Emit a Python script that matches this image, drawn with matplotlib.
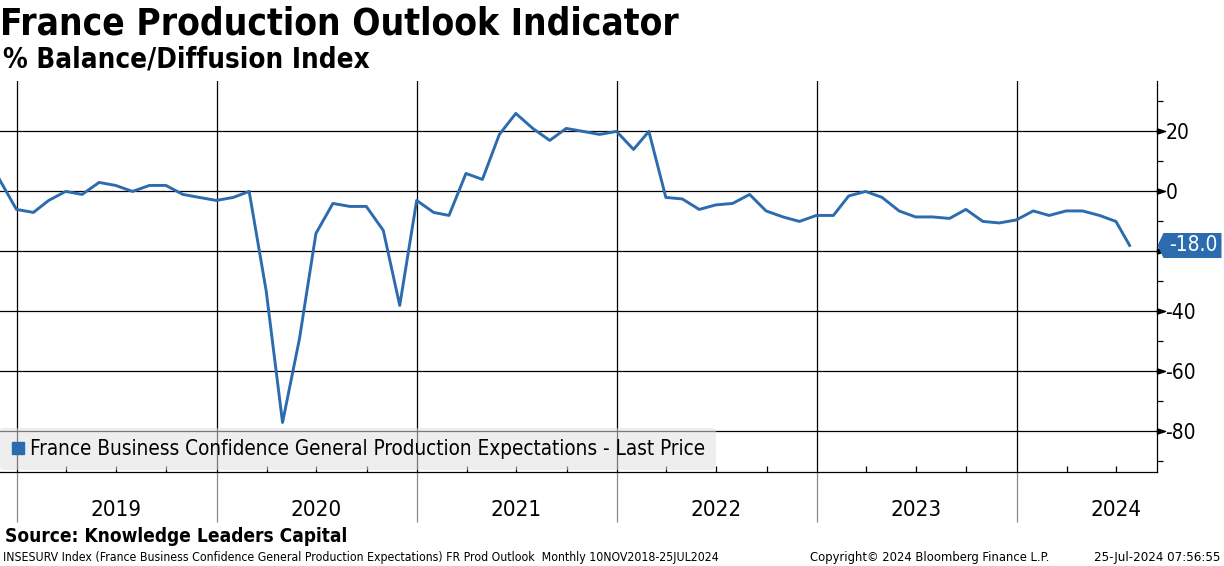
import numpy as np
import pandas as pd
import matplotlib
matplotlib.use("Agg")
import matplotlib.pyplot as plt
import matplotlib.dates as mdates
import matplotlib.transforms as mtransforms
from matplotlib.lines import Line2D
from matplotlib.ticker import FixedLocator, FuncFormatter, NullFormatter


# --------------------------------------------------
# DATA  (INSEE production outlook balance, monthly)
# --------------------------------------------------
vals_2018 = [4, -6]
vals_2019 = [-7, -3, 0, -1, 3, 2, 0, 2, 2, -1, -2, -3]
vals_2020 = [-2, 0, -33, -77, -49, -14, -4, -5, -5, -13, -38, -3]
vals_2021 = [-7, -8, 6, 4, 19, 26, 21, 17, 21, 20, 19, 20]
vals_2022 = [14, 20, -2, -2.5, -6, -4.5, -4, -1, -6.5, -8.5, -10, -8]
vals_2023 = [-8, -1.5, 0, -2, -6.5, -8.5, -8.5, -9, -6, -10, -10.5, -9.5]
vals_2024 = [-6.5, -8, -6.5, -6.5, -8, -10, -18]

values = vals_2018 + vals_2019 + vals_2020 + vals_2021 + vals_2022 + vals_2023 + vals_2024
dates = list(pd.date_range("2018-11-30", "2024-06-30", freq="ME")) + [pd.Timestamp("2024-07-25")]

y_major = [20, 0, -20, -40, -60, -80]
y_minor = [30, 10, -10, -30, -50, -70, -90]

TITLE = "France Production Outlook Indicator"
SUBTITLE = "% Balance/Diffusion Index"
SERIES_LABEL = "France Business Confidence General Production Expectations - Last Price"
SOURCE = "Source: Knowledge Leaders Capital"
FOOT_LEFT = ("INSESURV Index (France Business Confidence General Production Expectations) "
             "FR Prod Outlook  Monthly 10NOV2018-25JUL2024")
FOOT_MID = "Copyright\u00a9 2024 Bloomberg Finance L.P."
FOOT_RIGHT = "25-Jul-2024 07:56:55"

BLUE = "#2c6cae"
W, H = 1224, 566

plt.rcParams["font.family"] = "DejaVu Sans"
plt.rcParams["font.stretch"] = "condensed"


# --------------------------------------------------
# FIGURE
# --------------------------------------------------
fig = plt.figure(figsize=(W / 100, H / 100), dpi=100)
ax = fig.add_axes([0, 94 / H, 1157 / W, 391 / H])

ax.plot(dates, values, color=BLUE, lw=2.1, zorder=3)

ax.set_xlim(pd.Timestamp("2018-12-01"), pd.Timestamp("2024-09-13"))
ax.set_ylim(-93.5, 36.8)

for side in ["top", "left"]:
    ax.spines[side].set_visible(False)
for side in ["right", "bottom"]:
    ax.spines[side].set_color("black")
    ax.spines[side].set_linewidth(0.9)

last = values[-1]

# y axis on the right (label under the last-value tag is hidden, like Bloomberg does)
ax.yaxis.set_major_locator(FixedLocator(y_major))
ax.yaxis.set_minor_locator(FixedLocator(y_minor))
ax.yaxis.set_major_formatter(FuncFormatter(lambda v, p: "" if abs(v - last) < 8 else f"{v:.0f}"))
ax.tick_params(axis="y", which="both", left=False, right=True,
               labelleft=False, labelright=True)
ax.tick_params(axis="y", which="major", length=0, pad=6, labelsize=15)
ax.tick_params(axis="y", which="minor", length=4, width=0.9, color="black", direction="out")

# arrow heads on the major y ticks
yblend = mtransforms.blended_transform_factory(ax.transAxes, ax.transData)
ax.plot([1.0] * len(y_major), y_major, transform=yblend, ls="none",
        marker=[(0, 0.32), (1, 0), (0, -0.32), (0, 0.32)], ms=11.5,
        color="black", clip_on=False, zorder=4)

# x axis: year separators + quarter ticks, year labels mid-year
ax.xaxis.set_major_locator(mdates.YearLocator())
ax.xaxis.set_major_formatter(NullFormatter())
ax.xaxis.set_minor_locator(mdates.MonthLocator(bymonth=[4, 7, 10]))
ax.xaxis.set_minor_formatter(FuncFormatter(
    lambda x, p: mdates.num2date(x).strftime("%Y") if mdates.num2date(x).month == 7 else ""))
ax.tick_params(axis="x", which="major", length=36, width=0.9, color="#8a8a8a", direction="out")
ax.tick_params(axis="x", which="minor", length=4, width=0.9, color="black",
               direction="in", pad=20, labelsize=16)

ax.grid(True, which="major", color="black", lw=0.9)
ax.set_axisbelow(True)

# last value tag
ax.plot([1.0], [last], transform=yblend, ls="none",
        marker=[(0, 0), (6, 12.5), (64, 12.5), (64, -12.5), (6, -12.5), (0, 0)],
        ms=64 * 2 * 0.72, color=BLUE, mec="none", clip_on=False, zorder=6)
ax.annotate(f"{last:.1f}", xy=(1.0, last), xycoords=yblend,
            xytext=(36, 0), textcoords="offset pixels",
            ha="center", va="center", color="white", fontsize=15,
            annotation_clip=False, zorder=7)

# legend
handle = Line2D([], [], ls="none", marker="s", ms=8, color=BLUE, mec=BLUE)
leg = ax.legend([handle], [SERIES_LABEL], loc="lower left", bbox_to_anchor=(0, 0.005),
                borderaxespad=0, fontsize=13.5, handlelength=0.7, handletextpad=0.3,
                borderpad=0.6, fancybox=True, facecolor="#e0e0e0", framealpha=0.55,
                edgecolor="none")
leg.set_zorder(5)

# titles and footer
t_title = fig.text(0 / W, 1 - 24 / H, TITLE, fontsize=25, weight="bold", va="center", ha="left")
t_sub = fig.text(3 / W, 1 - 60 / H, SUBTITLE, fontsize=17, weight="bold", va="center", ha="left")
t_src = fig.text(5 / W, 1 - 537 / H, SOURCE, fontsize=13, weight="bold", va="center", ha="left")
t_fl = fig.text(3 / W, 1 - 557 / H, FOOT_LEFT, fontsize=9, va="center", ha="left")
t_fm = fig.text(810 / W, 1 - 557 / H, FOOT_MID, fontsize=9, va="center", ha="left")
t_fr = fig.text(1220 / W, 1 - 557 / H, FOOT_RIGHT, fontsize=9, va="center", ha="right")

# scale text so widths match the Bloomberg layout
fig.canvas.draw()
renderer = fig.canvas.get_renderer()
for t, width in [(t_title, 683), (t_sub, 365), (t_src, 342), (t_fl, 720),
                 (t_fm, 238), (t_fr, 127), (leg.get_texts()[0], 675)]:
    bb = t.get_window_extent(renderer)
    t.set_fontsize(t.get_fontsize() * width / bb.width)

fig.savefig("out.png", dpi=100)
